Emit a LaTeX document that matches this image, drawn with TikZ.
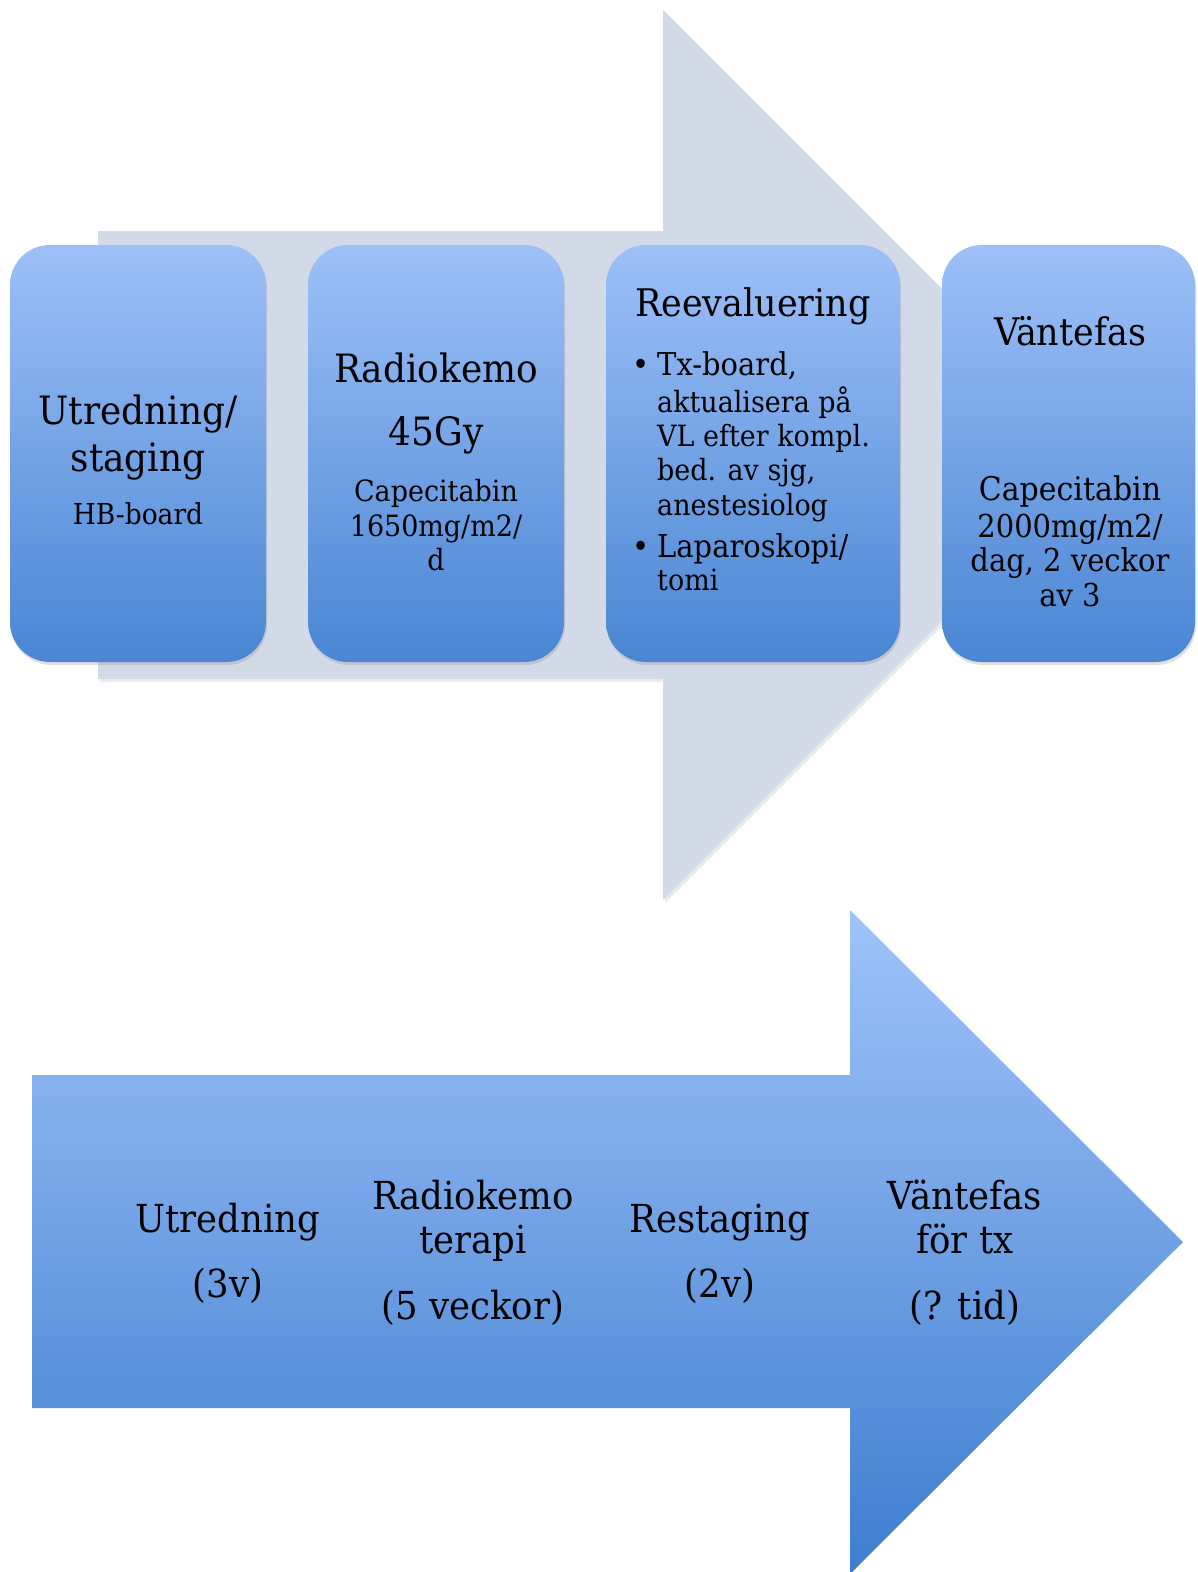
\documentclass[tikz,border=0pt]{standalone}
\usepackage{fontspec}
\setmainfont{DejaVu Serif}[FakeStretch=0.92]
\usetikzlibrary{shadows}
\definecolor{grayarrow}{HTML}{D3DAE7}
\definecolor{btop}{HTML}{9DC0F8}
\definecolor{bbot}{HTML}{4A86D4}
\definecolor{atop}{HTML}{A0C3FA}
\definecolor{abot}{HTML}{3E7DCF}
\tikzset{
  box/.style={draw=none, rounded corners=40pt, top color=btop, bottom color=bbot,
    minimum height=417pt, inner sep=0pt,
    drop shadow={opacity=0.25, shadow xshift=1pt, shadow yshift=-3pt}},
  fs/.style={inner sep=0pt, anchor=base, font=\fontsize{#1}{#1}\selectfont},
  fw/.style={inner sep=0pt, anchor=base west, font=\fontsize{#1}{#1}\selectfont}
}
\begin{document}
\begin{tikzpicture}[x=1pt,y=-1pt]
\useasboundingbox (0,0) rectangle (1198,1572);
% top grey arrow
\fill[black, opacity=0.08] (100,234) -- (665,234) -- (665,13) -- (1110,458) -- (665,903) -- (665,682) -- (100,682) -- cycle;
\fill[grayarrow] (98,231) -- (663,231) -- (663,10) -- (1108,455) -- (663,900) -- (663,679) -- (98,679) -- cycle;
% boxes
\node[box, minimum width=256pt] (b1) at (138,453.5) {};
\node[box, minimum width=256pt] (b2) at (436,453.5) {};
\node[box, minimum width=294pt] (b3) at (753,453.5) {};
\node[box, minimum width=253pt] (b4) at (1068.5,453.5) {};
% box 1 text
\node[fs=39] (t1a) at (138,424) {Utredning/};
\node[fs=39] (t1b) at (138,471) {staging};
\node[fs=28.8] (t1c) at (138,524) {HB-board};
% box 2 text
\node[fs=39] (t2a) at (436,382) {Radiokemo};
\node[fs=39] (t2b) at (436,445) {45Gy};
\node[fs=29.3] (t2c) at (436,501) {Capecitabin};
\node[fs=29.3] (t2d) at (436,536) {1650mg/m2/};
\node[fs=29.3] (t2e) at (436,570) {d};
% box 3 text
\node[fs=38] (t3a) at (753,316) {Reevaluering};
\node[fw=31.5] (t3b) at (657,375) {\llap{\textbullet\hspace{8pt}}Tx-board,};
\node[fw=29.3] (t3c) at (657,412) {aktualisera på};
\node[fw=29.3] (t3d) at (657,446) {VL efter kompl.};
\node[fw=29.3] (t3e) at (657,480) {bed. av sjg,};
\node[fw=29.3] (t3f) at (657,515) {anestesiolog};
\node[fw=31.5] (t3g) at (657,557) {\llap{\textbullet\hspace{8pt}}Laparoskopi/};
\node[fw=29.3] (t3h) at (657,590) {tomi};
% box 4 text
\node[fs=38] (t4a) at (1070,345) {Väntefas};
\node[fs=32.6] (t4b) at (1070,500) {Capecitabin};
\node[fs=31.5] (t4c) at (1070,537) {2000mg/m2/};
\node[fs=31.5] (t4d) at (1070,571) {dag, 2 veckor};
\node[fs=31.5] (t4e) at (1070,606) {av 3};
% bottom arrow
\shade[top color=atop, bottom color=abot] (32,1075) -- (850,1075) -- (850,910) -- (1183,1242) -- (850,1574) -- (850,1408) -- (32,1408) -- cycle;
\node[fs=38.6] (u1a) at (228,1232) {Utredning};
\node[fs=38.6] (u1b) at (228,1297) {(3v)};
\node[fs=38.6] (u2a) at (473,1209) {Radiokemo};
\node[fs=38.6] (u2b) at (473,1253) {terapi};
\node[fs=38.6] (u2c) at (473,1319) {(5 veckor)};
\node[fs=38.6] (u3a) at (720,1232) {Restaging};
\node[fs=38.6] (u3b) at (720,1297) {(2v)};
\node[fs=38.6] (u4a) at (965,1209) {Väntefas};
\node[fs=38.6] (u4b) at (965,1253) {för tx};
\node[fs=38.6] (u4c) at (965,1319) {(? tid)};
\end{tikzpicture}
\end{document}
